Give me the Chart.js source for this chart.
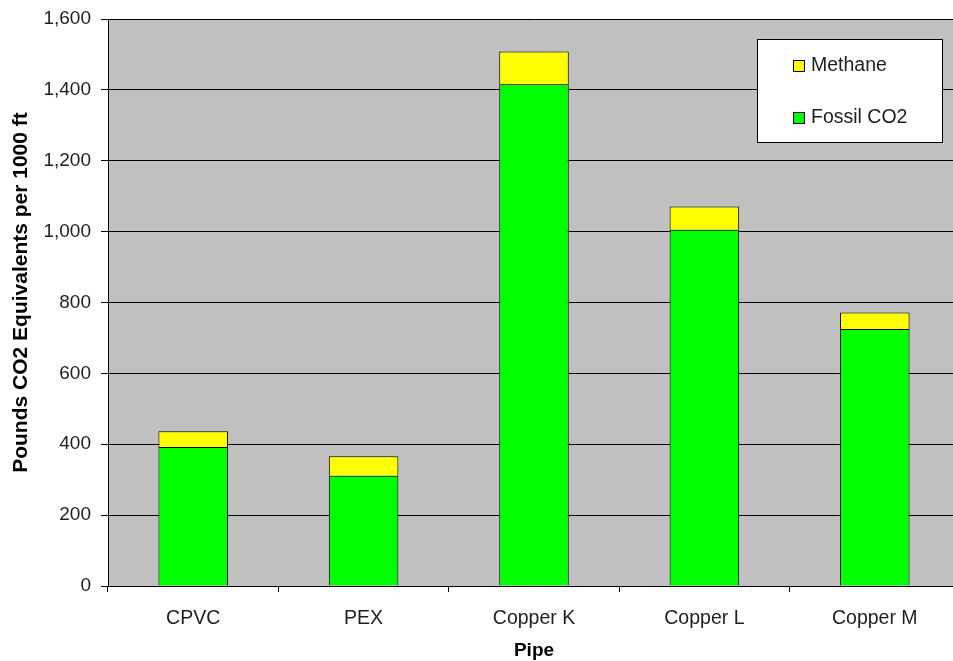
<!DOCTYPE html>
<html>
<head>
<meta charset="utf-8">
<script src="https://cdn.jsdelivr.net/npm/chart.js@4/dist/chart.umd.min.js"></script>
<style>
  html, body { margin: 0; padding: 0; background: #ffffff; overflow: hidden; }
  #wrap { width: 953px; height: 661px; position: relative; overflow: hidden; }
  #chart { display: block; }
</style>
</head>
<body>
<div id="wrap"><canvas id="chart" width="960" height="661"></canvas></div>
<script>
// Greenhouse gas emissions by pipe material (lbs CO2 equivalents per 1000 ft)
const pipes = ['CPVC', 'PEX', 'Copper K', 'Copper L', 'Copper M'];
const fossilCO2 = [392, 311, 1416, 1005, 725];
const methane = [45, 55, 92, 66, 47];
const yTicks = [0, 200, 400, 600, 800, 1000, 1200, 1400, 1600];
const yTitle = 'Pounds CO2 Equivalents per 1000 ft';
const xTitle = 'Pipe';

const FONT = 'Arial, "Liberation Sans", Helvetica, sans-serif';
const TEXT = '#1e1e1e';

// Grey plot background behind the bars
const plotBackground = {
  id: 'plotBackground',
  beforeDraw(chart) {
    const { ctx, chartArea: a } = chart;
    ctx.save();
    ctx.fillStyle = '#C0C0C0';
    ctx.fillRect(a.left, a.top, a.right - a.left, a.bottom - a.top);
    ctx.restore();
  }
};

// Rotated value-axis title, set a little above the plot's midline
const valueTitle = {
  id: 'valueTitle',
  afterDraw(chart) {
    const { ctx, chartArea: a } = chart;
    ctx.save();
    ctx.translate(26.5, (a.top + a.bottom) / 2 - 10);
    ctx.rotate(-Math.PI / 2);
    ctx.font = 'bold 21px ' + FONT;
    ctx.fillStyle = '#000000';
    ctx.textAlign = 'center';
    ctx.textBaseline = 'alphabetic';
    ctx.fillText(yTitle, 0, 0);
    ctx.restore();
  }
};

// Boxed legend in the upper right of the plot, series listed top to bottom
const boxLegend = {
  id: 'boxLegend',
  afterDraw(chart) {
    const { ctx } = chart;
    const x = 757, y = 39, w = 185, h = 103;
    ctx.save();
    ctx.fillStyle = '#ffffff';
    ctx.fillRect(x, y, w, h);
    ctx.strokeStyle = '#000000';
    ctx.lineWidth = 1;
    ctx.strokeRect(x + 0.5, y + 0.5, w, h);
    const items = chart.data.datasets.slice().reverse();
    const rows = [66, 118];
    ctx.font = '19.5px ' + FONT;
    ctx.textBaseline = 'middle';
    items.forEach((ds, i) => {
      const cy = rows[i];
      ctx.fillStyle = ds.backgroundColor;
      ctx.fillRect(793, cy - 6, 11, 11);
      ctx.strokeStyle = '#000000';
      ctx.strokeRect(793.5, cy - 5.5, 11, 11);
      ctx.fillStyle = TEXT;
      ctx.fillText(ds.label, 811, cy);
    });
    ctx.restore();
  }
};

new Chart(document.getElementById('chart'), {
  type: 'bar',
  data: {
    labels: pipes,
    datasets: [
      { label: 'Fossil CO2', data: fossilCO2, backgroundColor: '#00FF00', borderColor: '#000000', borderWidth: 1 },
      { label: 'Methane', data: methane, backgroundColor: '#FFFF00', borderColor: '#000000', borderWidth: 1 }
    ]
  },
  options: {
    responsive: false,
    animation: false,
    layout: { padding: { top: 19, right: 0, left: 0, bottom: 0 } },
    datasets: { bar: { categoryPercentage: 1, barPercentage: 0.408 } },
    plugins: { legend: { display: false }, tooltip: { enabled: false } },
    scales: {
      x: {
        stacked: true,
        afterFit(scale) { scale.height = 75; },
        grid: { offset: true, drawOnChartArea: false, color: '#000000', tickLength: 6, tickColor: '#000000' },
        border: { color: '#000000', width: 1 },
        ticks: { color: TEXT, font: { family: FONT, size: 19.5 }, padding: 15, maxRotation: 0 },
        title: { display: true, text: xTitle, color: '#000000', font: { family: FONT, size: 19, weight: 'bold', lineHeight: 1 }, padding: { top: 0, bottom: 1 } }
      },
      y: {
        stacked: true,
        min: 0,
        max: 1600,
        afterFit(scale) {
          scale.width = 108;
          scale.paddingTop = 0;
          scale.paddingBottom = 0;
        },
        afterBuildTicks(scale) { scale.ticks = yTicks.map(v => ({ value: v })); },
        grid: { color: '#000000', tickLength: 7, tickColor: '#000000' },
        border: { color: '#000000', width: 1 },
        ticks: {
          color: TEXT,
          font: { family: FONT, size: 19 },
          padding: 10,
          callback: v => v.toLocaleString('en-US')
        },
        title: { display: false }
      }
    }
  },
  plugins: [plotBackground, valueTitle, boxLegend]
});
</script>
</body>
</html>
